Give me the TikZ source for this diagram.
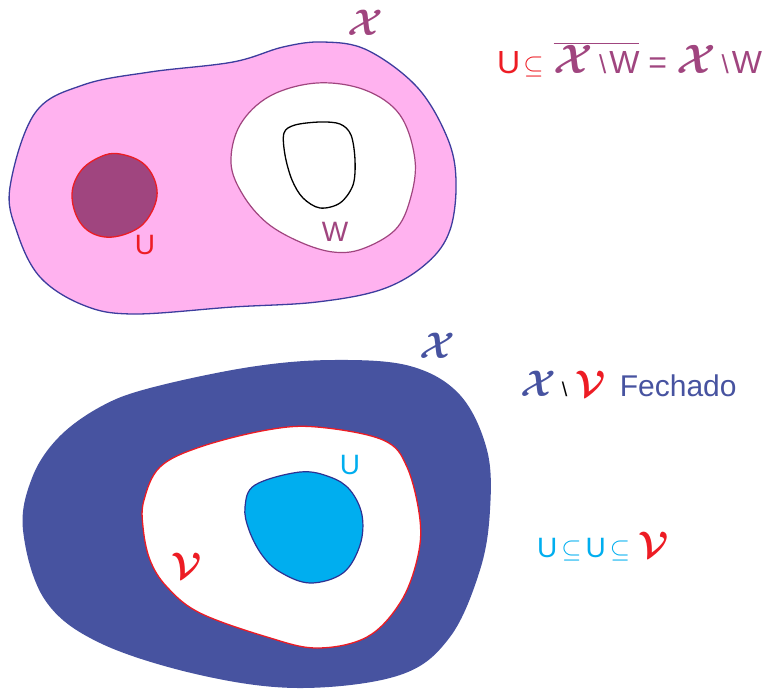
\documentclass[tikz,border=0pt]{standalone}
\usepackage{graphicx}
\usepackage{fontspec}
\setmainfont{Liberation Sans}
\definecolor{pinkfill}{RGB}{255,178,239}
\definecolor{outblue}{RGB}{61,61,158}
\definecolor{purp}{RGB}{160,69,127}
\definecolor{myred}{RGB}{237,28,36}
\definecolor{navy}{RGB}{71,83,160}
\definecolor{cyanf}{RGB}{0,174,239}
\definecolor{cyanb}{RGB}{46,49,146}
\newcommand{\calX}{\scalebox{3.7}{\fontsize{10}{10}\selectfont\boldmath$\mathcal{X}$}}
\newcommand{\calXb}{\scalebox{4.1}{\fontsize{10}{10}\selectfont\boldmath$\mathcal{X}$}}
\newcommand{\calV}{\scalebox{3.7}{\fontsize{10}{10}\selectfont\boldmath$\mathcal{V}$}}
\newcommand{\sbs}{\scalebox{2.6}{\fontsize{10}{10}\selectfont$\subseteq$}}
\newcommand{\bsl}{{\fontsize{26}{26}\selectfont\textbackslash}}
\tikzset{
  lbl/.style={inner sep=0pt, font=\fontsize{28}{28}\selectfont},
  formula/.style={inner sep=0pt, anchor=base west, font=\fontsize{32}{32}\selectfont},
}
\begin{document}
\begin{tikzpicture}[x=1pt,y=-1pt]
\useasboundingbox (0,0) rectangle (778,694);
% top blob
\draw[outblue, line width=1.3pt, fill=pinkfill] plot[smooth cycle, tension=0.6] coordinates {
 (10,187) (17,232) (40,277) (83,305) (133,314) (233,307) (317,302) (383,289) (427,263) (450,230) (456,180) (447,137) (417,87) (367,50) (323,42) (283,47) (233,62) (150,72) (83,85) (35,113)};
\draw[myred, line width=1.3pt, fill=purp] plot[smooth cycle, tension=0.65] coordinates {
 (72,197) (80,172) (100,157) (120,154) (145,165) (157,190) (150,215) (133,231) (105,237) (82,225)};
\draw[purp, line width=1.2pt, fill=white] plot[smooth cycle, tension=0.6] coordinates {
 (231,163) (240,125) (270,96) (317,83) (365,90) (400,115) (415,160) (410,200) (395,230) (362,249) (333,252) (300,242) (267,223) (243,195)};
\draw[black, line width=1.3pt] plot[smooth cycle, tension=0.55] coordinates {
 (284,133) (295,125) (320,122) (340,124) (351,135) (355,160) (353,185) (340,203) (320,208) (303,198) (292,180) (285,155)};
% bottom blob
\fill[navy] plot[smooth cycle, tension=0.6] coordinates {
 (23,530) (32,478) (58,438) (100,407) (150,388) (250,367) (333,360) (410,366) (460,395) (487,450) (490,510) (480,570) (450,637) (400,675) (300,688) (200,675) (100,643) (45,600)};
\draw[myred, line width=1.3pt, fill=white] plot[smooth cycle, tension=0.6] coordinates {
 (143,527) (144,500) (160,467) (200,447) (267,430) (317,427) (383,440) (407,467) (420,520) (417,560) (400,603) (367,637) (317,648) (267,637) (200,613) (167,587) (150,560)};
\draw[cyanb, line width=1.2pt, fill=cyanf] plot[smooth cycle, tension=0.6] coordinates {
 (245,507) (255,485) (300,472) (330,477) (350,490) (362,515) (360,545) (343,573) (310,583) (280,572) (262,555) (249,530)};
% labels
\node[inner sep=0pt, text=purp] (xtop) at (365,23) {\calX};
\node[lbl, text=myred] (utop) at (145,245) {U};
\node[lbl, text=purp] (wtop) at (335,232) {W};
\node[inner sep=0pt, text=navy] (xbot) at (437,346) {\calX};
\node[lbl, text=cyanf] (ubot) at (350,465) {U};
\node[inner sep=0pt, text=myred] (vbot) at (187,566) {\calV};
\node[formula, text=myred] (f1) at (497,73) {U\hspace{3pt}\sbs\hspace{10pt}\textcolor{purp}{$\overline{\hbox{\calXb\hspace{6pt}\bsl\hspace{3pt}W}}$\hspace{9pt}=\hspace{9pt}\calXb\hspace{6pt}\bsl\hspace{3pt}W}};
\node[lbl, anchor=base west, text=navy] (f2) at (520,396) {\calX\hspace{6pt}{\color{black}\fontsize{20}{20}\selectfont\textbackslash}\hspace{8pt}\textcolor{myred}{\calV}\hspace{14pt}{\fontsize{30}{30}\selectfont Fechado}};
\node[lbl, anchor=base west, text=cyanf] (f3) at (537,557) {U\hspace{4pt}\sbs\hspace{4pt}U\hspace{4pt}\sbs\hspace{8pt}\textcolor{myred}{\calV}};
\end{tikzpicture}
\end{document}
